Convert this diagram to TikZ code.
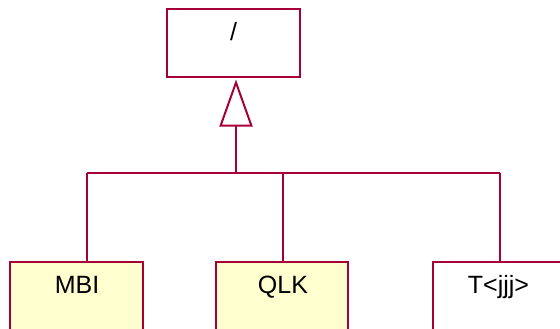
\documentclass[tikz,border=0pt]{standalone}
\usepackage{fontspec}
\setmainfont{Liberation Sans}
\usetikzlibrary{arrows.meta}
\definecolor{umlborder}{HTML}{A80036}
\definecolor{umlfill}{HTML}{FEFECE}
\begin{document}
\begin{tikzpicture}[x=1pt,y=-1pt,
  classbox/.style={draw=umlborder, line width=2pt, minimum width=133pt, minimum height=68pt, inner sep=0pt},
  lbl/.style={anchor=base, font=\fontsize{25}{25}\selectfont, text=black, inner sep=0pt},
  link/.style={draw=umlborder, line width=2pt}]
\useasboundingbox (0,0) rectangle (560,329);
\node[classbox, fill=white] (top) at (233.5,43) {};
\node[lbl] (toplbl) at (233.5,41) {/};
\node[classbox, fill=umlfill] (mbi) at (76.5,296) {};
\node[lbl] (mbilbl) at (77,293) {MBI};
\node[classbox, fill=umlfill, minimum width=132pt] (qlk) at (282,296) {};
\node[lbl] (qlklbl) at (283,293) {QLK};
\node[classbox, fill=white, minimum width=134pt] (t) at (500,296) {};
\node[lbl] (tlbl) at (498.5,293) {T<jjj>};
\coordinate (j) at (236,173);
\coordinate (c1) at (87,173);
\coordinate (c2) at (283,173);
\coordinate (c3) at (500,173);
\draw[link, -{Triangle[open, length=47pt, width=33pt, line width=2pt]}, shorten >=1.5pt] (j) -- (j |- top.south);
\draw[link] (c1) -- (c3);
\draw[link] (c1) -- (c1 |- mbi.north);
\draw[link] (c2) -- (c2 |- qlk.north);
\draw[link] (c3) -- (c3 |- t.north);
\end{tikzpicture}
\end{document}
